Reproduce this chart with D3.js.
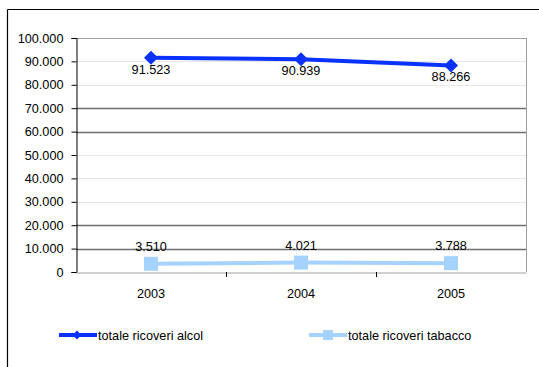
<!DOCTYPE html>
<html><head><meta charset="utf-8">
<script src="https://cdn.jsdelivr.net/npm/d3@7"></script>
<style>body{margin:0;background:#fff}svg{display:block;font-family:"Liberation Sans",Arial,sans-serif}</style>
</head><body><svg id="c" width="539" height="367"></svg>
<script>
const years = ["2003","2004","2005"];
const alcol = [91523, 90939, 88266];
const tabacco = [3510, 4021, 3788];
const yTicks = [0,10000,20000,30000,40000,50000,60000,70000,80000,90000,100000];
const darkGrid = [10000,20000,60000,70000];
const seriesNames = ["totale ricoveri alcol","totale ricoveri tabacco"];

const svg = d3.select("#c");
const L=76, R=526, T=38, B=272;
const FS=12.7;
const fmt = v => d3.format(",")(v).replace(/,/g,".");
const x = d3.scaleBand().domain(years).range([L,R]);
const y = d3.scaleLinear().domain([0,100000]).range([B,T]);

// outer frame
svg.append("line").attr("x1",7.5).attr("x2",539).attr("y1",9.5).attr("y2",9.5).attr("stroke","#000").attr("stroke-width",1.2);
svg.append("line").attr("x1",7.5).attr("x2",7.5).attr("y1",9.5).attr("y2",367).attr("stroke","#000").attr("stroke-width",1.2);

// gridlines
svg.append("g").selectAll("line").data(yTicks.filter(d=>d>0)).join("line")
  .attr("x1",L).attr("x2",R).attr("y1",d=>Math.round(y(d))+0.5).attr("y2",d=>Math.round(y(d))+0.5)
  .attr("stroke",d=>darkGrid.includes(d)?"#6e6e6e":(d===100000?"#a0a0a0":"#e8e8e8"))
  .attr("stroke-width",d=>darkGrid.includes(d)?1.3:1);
// right border
svg.append("line").attr("x1",R+0.5).attr("x2",R+0.5).attr("y1",T).attr("y2",B).attr("stroke","#a0a0a0");

// y axis
const ya = svg.append("g").attr("transform",`translate(${L+0.5},0)`)
  .call(d3.axisLeft(y).tickValues(yTicks).tickFormat(fmt).tickSize(5).tickPadding(8));
ya.select(".domain").attr("stroke","#000");
ya.selectAll(".tick line").attr("stroke","#000");
ya.selectAll("text").attr("font-size",FS).attr("fill","#000").attr("font-family","Liberation Sans, Arial, sans-serif");

// x axis
const xa = svg.append("g").attr("transform",`translate(0,${B+0.5})`)
  .call(d3.axisBottom(x).tickSize(0).tickPadding(16));
xa.select(".domain").attr("stroke","#a0a0a0");
xa.selectAll("text").attr("font-size",FS).attr("fill","#000").attr("font-family","Liberation Sans, Arial, sans-serif");
svg.append("g").selectAll("line").data(years.slice(1)).join("line")
  .attr("x1",d=>Math.round(x(d))+0.5).attr("x2",d=>Math.round(x(d))+0.5)
  .attr("y1",B).attr("y2",B+5).attr("stroke","#000");

const cx = d => x(d)+x.bandwidth()/2;
const blue="#0a32ff", light="#a6d2ff";
const line = d3.line().x((d,i)=>cx(years[i])).y(d=>y(d));

// tabacco
svg.append("path").datum(tabacco).attr("d",line).attr("fill","none").attr("stroke",light).attr("stroke-width",4);
svg.append("g").selectAll("rect").data(tabacco).join("rect")
  .attr("x",(d,i)=>cx(years[i])-7).attr("y",d=>y(d)-7).attr("width",14).attr("height",14).attr("fill",light);
svg.append("g").selectAll("text").data(tabacco).join("text")
  .attr("x",(d,i)=>cx(years[i])).attr("y",d=>y(d)-13).attr("text-anchor","middle")
  .attr("font-size",FS).text(fmt);

// alcol
svg.append("path").datum(alcol).attr("d",line).attr("fill","none").attr("stroke",blue).attr("stroke-width",4);
const diamond = "M0,-7L7,0L0,7L-7,0Z";
svg.append("g").selectAll("path").data(alcol).join("path")
  .attr("transform",(d,i)=>`translate(${cx(years[i])},${y(d)})`).attr("d",diamond).attr("fill",blue);
svg.append("g").selectAll("text").data(alcol).join("text")
  .attr("x",(d,i)=>cx(years[i])).attr("y",d=>y(d)+16).attr("text-anchor","middle")
  .attr("font-size",FS).text(fmt);

// legend
const lg = svg.append("g");
const items = [{name:seriesNames[0],c:blue,x0:59,m:"d"},{name:seriesNames[1],c:light,x0:309,m:"s"}];
const ly=335;
items.forEach(it=>{
  lg.append("line").attr("x1",it.x0).attr("x2",it.x0+38).attr("y1",ly).attr("y2",ly).attr("stroke",it.c).attr("stroke-width",4);
  if(it.m==="d") lg.append("path").attr("d","M0,-4.5L4.5,0L0,4.5L-4.5,0Z").attr("transform",`translate(${it.x0+18},${ly})`).attr("fill",it.c);
  else lg.append("rect").attr("x",it.x0+14).attr("y",ly-5).attr("width",10).attr("height",10).attr("fill",it.c);
  lg.append("text").attr("x",it.x0+39).attr("y",ly+4.5).attr("font-size",FS).text(it.name);
});
</script></body></html>
